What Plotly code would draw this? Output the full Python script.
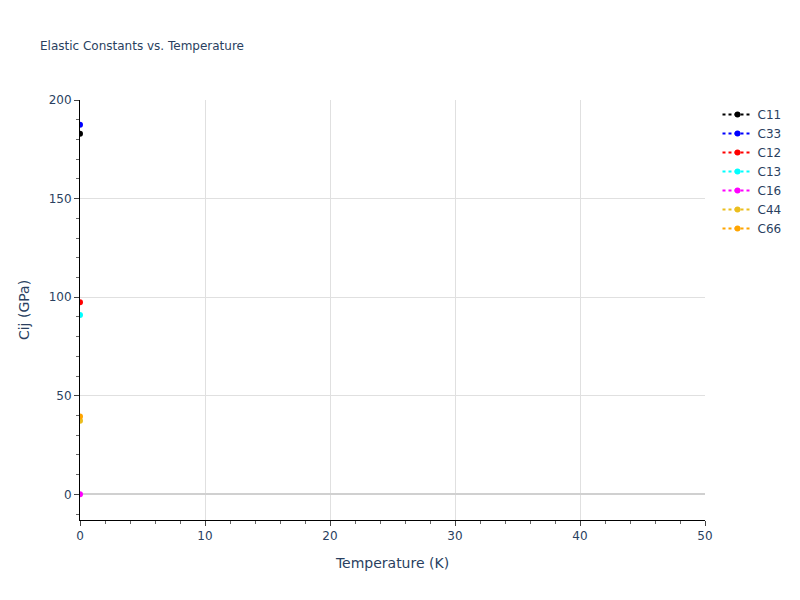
import plotly.graph_objects as go

temperature = [0]
series_names = ["C11", "C33", "C12", "C13", "C16", "C44", "C66"]
series_values = {
    "C11": [182.9],
    "C33": [187.5],
    "C12": [97.4],
    "C13": [91.0],
    "C16": [0.0],
    "C44": [37.3],
    "C66": [39.5],
}
series_colors = ["black", "blue", "red", "cyan", "magenta", "#ebbe1e", "orange"]

fig = go.Figure()
for name, color in zip(series_names, series_colors):
    fig.add_trace(go.Scatter(
        x=temperature, y=series_values[name], name=name,
        mode="lines+markers",
        line=dict(color=color, dash="dot", width=2),
        marker=dict(color=color, size=6),
    ))

axis_style = dict(
    showline=True, linecolor="black", linewidth=1,
    ticks="outside", ticklen=5, tickcolor="#444",
    showgrid=True, gridcolor="#e0e0e0",
    minor=dict(ticks="outside", ticklen=3, tickcolor="#666", showgrid=False),
)

fig.update_layout(
    template="plotly_white",
    width=800, height=600,
    font=dict(family="DejaVu Sans"),
    title=dict(text="Elastic Constants vs. Temperature", x=0.04, y=1 - 38 / 600,
               yanchor="middle", font=dict(size=12)),
    xaxis=dict(title="Temperature (K)", range=[0, 50], dtick=10, zeroline=False,
               **axis_style),
    yaxis=dict(title="Cij (GPa)", range=[-13, 200], dtick=50,
               zeroline=True, zerolinecolor="#d0d0d0", zerolinewidth=2,
               **axis_style),
    margin=dict(l=72, r=103, t=92, b=88),
)
fig.update_xaxes(minor_dtick=2)
fig.update_yaxes(minor_dtick=10)

fig.write_html("out.html")
